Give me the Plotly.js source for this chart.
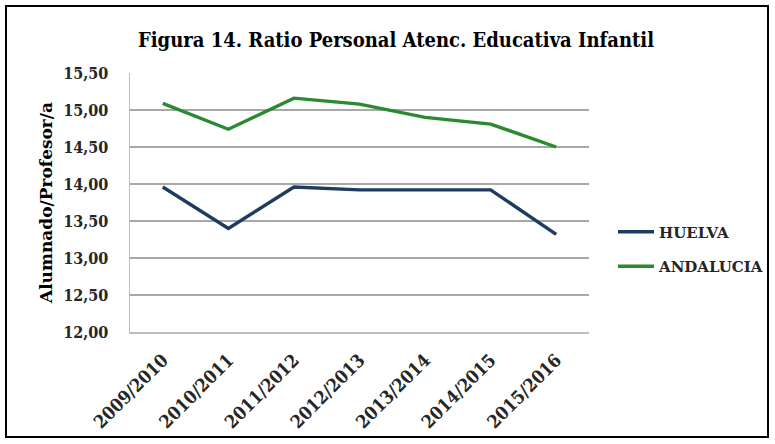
<!DOCTYPE html>
<html>
<head>
<meta charset="utf-8">
<script src="https://cdn.plot.ly/plotly-3.0.1.min.js"></script>
<style>
html,body{margin:0;padding:0;background:#fff;}
#chart{width:775px;height:444px;}
</style>
</head>
<body>
<div id="chart"></div>
<script>
var categories = ["2009/2010","2010/2011","2011/2012","2012/2013","2013/2014","2014/2015","2015/2016"];
var huelva = [13.96, 13.40, 13.96, 13.92, 13.92, 13.92, 13.32];
var andalucia = [15.09, 14.74, 15.16, 15.08, 14.90, 14.81, 14.50];
var yTicks = [12.0, 12.5, 13.0, 13.5, 14.0, 14.5, 15.0, 15.5];

var FONT = "'DejaVu Serif Condensed', 'DejaVu Serif', serif";
var FONTW = "'DejaVu Serif', serif";
var W = 775, H = 444;
var M = {l:130, r:186, t:73, b:112, autoexpand: false};
var pw = W - M.l - M.r, ph = H - M.t - M.b;
function px(x){ return (x - M.l) / pw; }
function py(y){ return (H - M.b - y) / ph; }

var traces = [
  {x: categories, y: huelva, name: "HUELVA", type: "scatter", mode: "lines",
   line: {color: "#1d3c5e", width: 3.4}, legendgroup: "a"},
  {x: categories, y: andalucia, name: "ANDALUCIA", type: "scatter", mode: "lines",
   line: {color: "#2a8a2f", width: 3.4}, legendgroup: "b"}
];

var layout = {
  width: W, height: H,
  margin: M,
  paper_bgcolor: "#fff", plot_bgcolor: "#fff",
  separators: ",.",
  font: {family: FONT, color: "#262626"},
  title: {text: "<b>Figura 14. Ratio Personal Atenc. Educativa Infantil</b>",
          font: {family: FONT, size: 20, color: "#000"},
          x: (142 + 650) / 2 / W, xref: "container", xanchor: "center", y: 1 - 40/H, yanchor: "middle"},
  xaxis: {type: "category", showgrid: false, showline: true, linecolor: "#bdbdbd", linewidth: 1.5,
          tickangle: -45, ticks: "", ticklabelstandoff: 9,
          tickfont: {family: FONT, size: 18, color: "#262626", weight: "bold"},
          zeroline: false, range: [-0.5, 6.5], fixedrange: true, automargin: false},
  yaxis: {range: [12, 15.5], tickvals: yTicks, tickformat: ".2f", showgrid: true, gridcolor: "#a8a8a8",
          gridwidth: 1.5, showline: true, linecolor: "#bdbdbd", linewidth: 1.5, zeroline: false,
          ticks: "", ticklabelstandoff: 17, automargin: false,
          tickfont: {family: FONT, size: 16, color: "#262626", weight: "bold"},
          title: {text: "<b>Alumnado/Profesor/a</b>", font: {family: FONTW, size: 17, color: "#000"}, standoff: 6}},
  showlegend: true,
  legend: {x: px(613), xanchor: "left", y: py(249), yanchor: "middle",
           traceorder: "grouped", tracegroupgap: 12, itemwidth: 36,
           font: {family: FONTW, size: 15, color: "#262626", weight: "bold"},
           bgcolor: "rgba(0,0,0,0)"},
  shapes: [{type: "rect", xref: "paper", yref: "paper",
            x0: px(6), x1: px(768), y0: py(437), y1: py(6),
            line: {color: "#000", width: 2}, fillcolor: "rgba(0,0,0,0)", layer: "above"}]
};

Plotly.newPlot("chart", traces, layout, {displayModeBar: false, staticPlot: true});
</script>
</body>
</html>
